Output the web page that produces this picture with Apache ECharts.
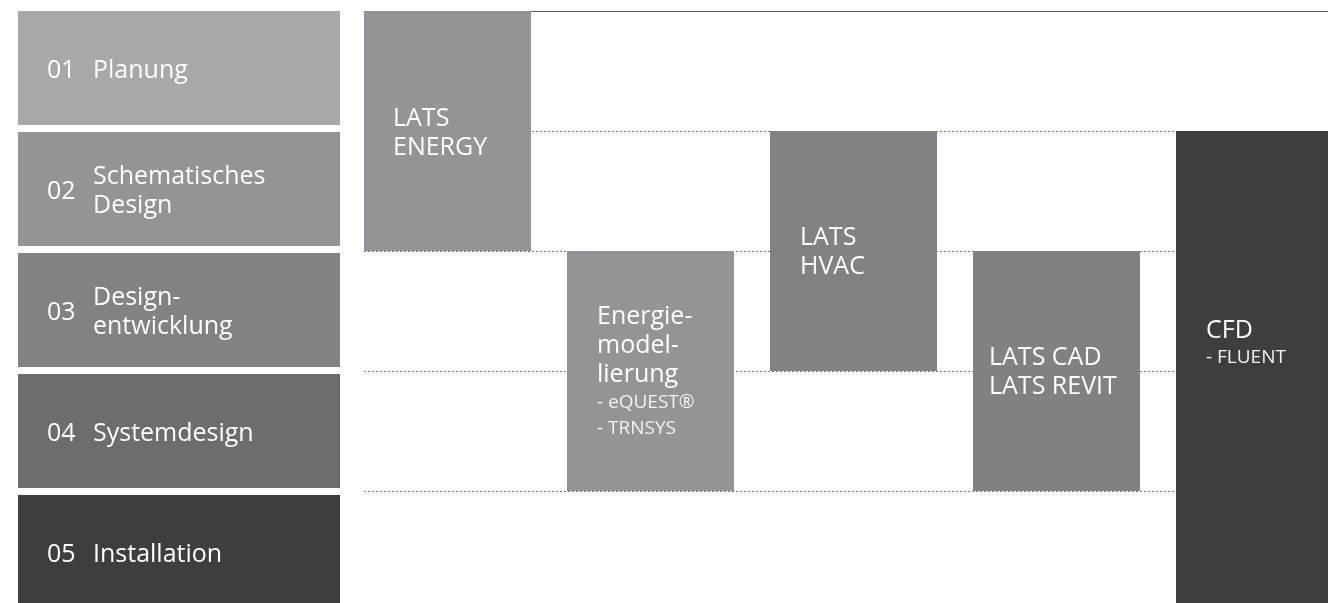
<!DOCTYPE html>
<html>
<head>
<meta charset="utf-8">
<script src="https://cdn.jsdelivr.net/npm/echarts@6/dist/echarts.min.js"></script>
<style>
html,body{margin:0;padding:0;background:#fff;}
#chart{width:1328px;height:603px;}
</style>
</head>
<body>
<div id="chart"></div>
<script>
// ---- data ----
var stageNumbers = ['01', '02', '03', '04', '05'];
var stageNames = ['Planung', 'Schematisches\nDesign', 'Design-\nentwicklung', 'Systemdesign', 'Installation'];

var toolNames = ['LATS\nENERGY', 'Energie-\nmodel-\nlierung', 'LATS\nHVAC', 'LATS CAD\nLATS REVIT', 'CFD'];
var toolDetails = ['', '- eQUEST®\n- TRNSYS', '', '', '- FLUENT'];
var toolColumn = [0, 1, 2, 3, 4];
var toolFirstStage = [1, 3, 2, 3, 2];
var toolLastStage = [2, 4, 3, 4, 5];

// ---- styles ----
var stageColors = ['#a7a8ab', '#939498', '#818286', '#6c6d71', '#3e3e3e'];
var toolColors = ['#939498', '#949498', '#818286', '#808185', '#3e3e3f'];
var toolTextPad = [29, 30, 30, 16, 30];
var toolTextShift = [2, 1, 1, 1, 0];
var FONT = "'Open Sans', 'Noto Sans', sans-serif";
var BAR_FRAC = 167 / 203;
var STAGE_GAP = 7;

var stageData = stageNumbers.map(function (n, i) { return [i, n, stageNames[i]]; });
var toolData = toolNames.map(function (n, i) {
  return [toolColumn[i], toolFirstStage[i] - 1, toolLastStage[i], i];
});

function toolRich(i) {
  var main = toolNames[i].split('\n').map(function (l) { return '{a|' + l + '}'; });
  var sub = toolDetails[i] ? toolDetails[i].split('\n').map(function (l) { return '{b|' + l + '}'; }) : [];
  return main.concat(sub).join('\n');
}

var chart = echarts.init(document.getElementById('chart'), null, { renderer: 'canvas' });
chart.setOption({
  animation: false,
  backgroundColor: '#ffffff',
  grid: [
    { left: 364, top: 11, width: 1015, height: 600, outerBoundsMode: 'none', containLabel: false },
    { left: 18, top: 11, width: 322, height: 605, outerBoundsMode: 'none', containLabel: false }
  ],
  xAxis: [
    { gridIndex: 0, type: 'value', min: 0, max: 5, position: 'top',
      axisLine: { show: true, lineStyle: { color: '#555', width: 1 } },
      axisTick: { show: false }, axisLabel: { show: false }, splitLine: { show: false } },
    { gridIndex: 1, type: 'value', min: 0, max: 1, show: false }
  ],
  yAxis: [
    { gridIndex: 0, type: 'value', min: 0, max: 5, interval: 1, inverse: true,
      axisLine: { show: false }, axisTick: { show: false }, axisLabel: { show: false },
      splitLine: { show: true, lineStyle: { color: '#7a7a7a', width: 1, type: [2, 2] } } },
    { gridIndex: 1, type: 'value', min: 0, max: 5, inverse: true, show: false }
  ],
  series: [
    {
      type: 'custom', xAxisIndex: 1, yAxisIndex: 1, clip: false,
      data: stageData,
      renderItem: function (params, api) {
        var i = api.value(0);
        var p0 = api.coord([0, i]);
        var p1 = api.coord([1, i + 1]);
        var h = p1[1] - p0[1] - STAGE_GAP;
        var cy = p0[1] + h / 2 + 2.5;
        return {
          type: 'group',
          children: [
            { type: 'rect', shape: { x: p0[0], y: p0[1], width: p1[0] - p0[0], height: h },
              style: { fill: stageColors[i] } },
            { type: 'text', x: p0[0] + 29, y: cy,
              style: { text: stageData[i][1], fill: '#fff', font: '25px ' + FONT,
                       verticalAlign: 'middle', align: 'left' } },
            { type: 'text', x: p0[0] + 75, y: cy,
              style: { text: stageData[i][2], fill: '#fff', font: '25px ' + FONT, lineHeight: 29,
                       verticalAlign: 'middle', align: 'left' } }
          ]
        };
      }
    },
    {
      type: 'custom', xAxisIndex: 0, yAxisIndex: 0, clip: false,
      data: toolData,
      renderItem: function (params, api) {
        var col = api.value(0), s = api.value(1), e = api.value(2), i = api.value(3);
        var p0 = api.coord([col, s]);
        var p1 = api.coord([col + BAR_FRAC, e]);
        var cy = (p0[1] + p1[1]) / 2;
        if (i === 4) { cy = api.coord([col, 2.77])[1]; }
        else { cy += toolTextShift[i]; }
        return {
          type: 'group',
          children: [
            { type: 'rect', shape: { x: p0[0], y: p0[1], width: p1[0] - p0[0], height: p1[1] - p0[1] },
              style: { fill: toolColors[i] } },
            { type: 'text', x: p0[0] + toolTextPad[i], y: cy,
              style: { text: toolRich(i), fill: '#fff', verticalAlign: 'middle', align: 'left',
                       rich: {
                         a: { fontFamily: FONT, fontSize: 25, lineHeight: 29, fill: '#fff' },
                         b: { fontFamily: FONT, fontSize: 19, lineHeight: 26, fill: '#f2f2f2' }
                       } } }
          ]
        };
      }
    }
  ]
});
</script>
</body>
</html>
